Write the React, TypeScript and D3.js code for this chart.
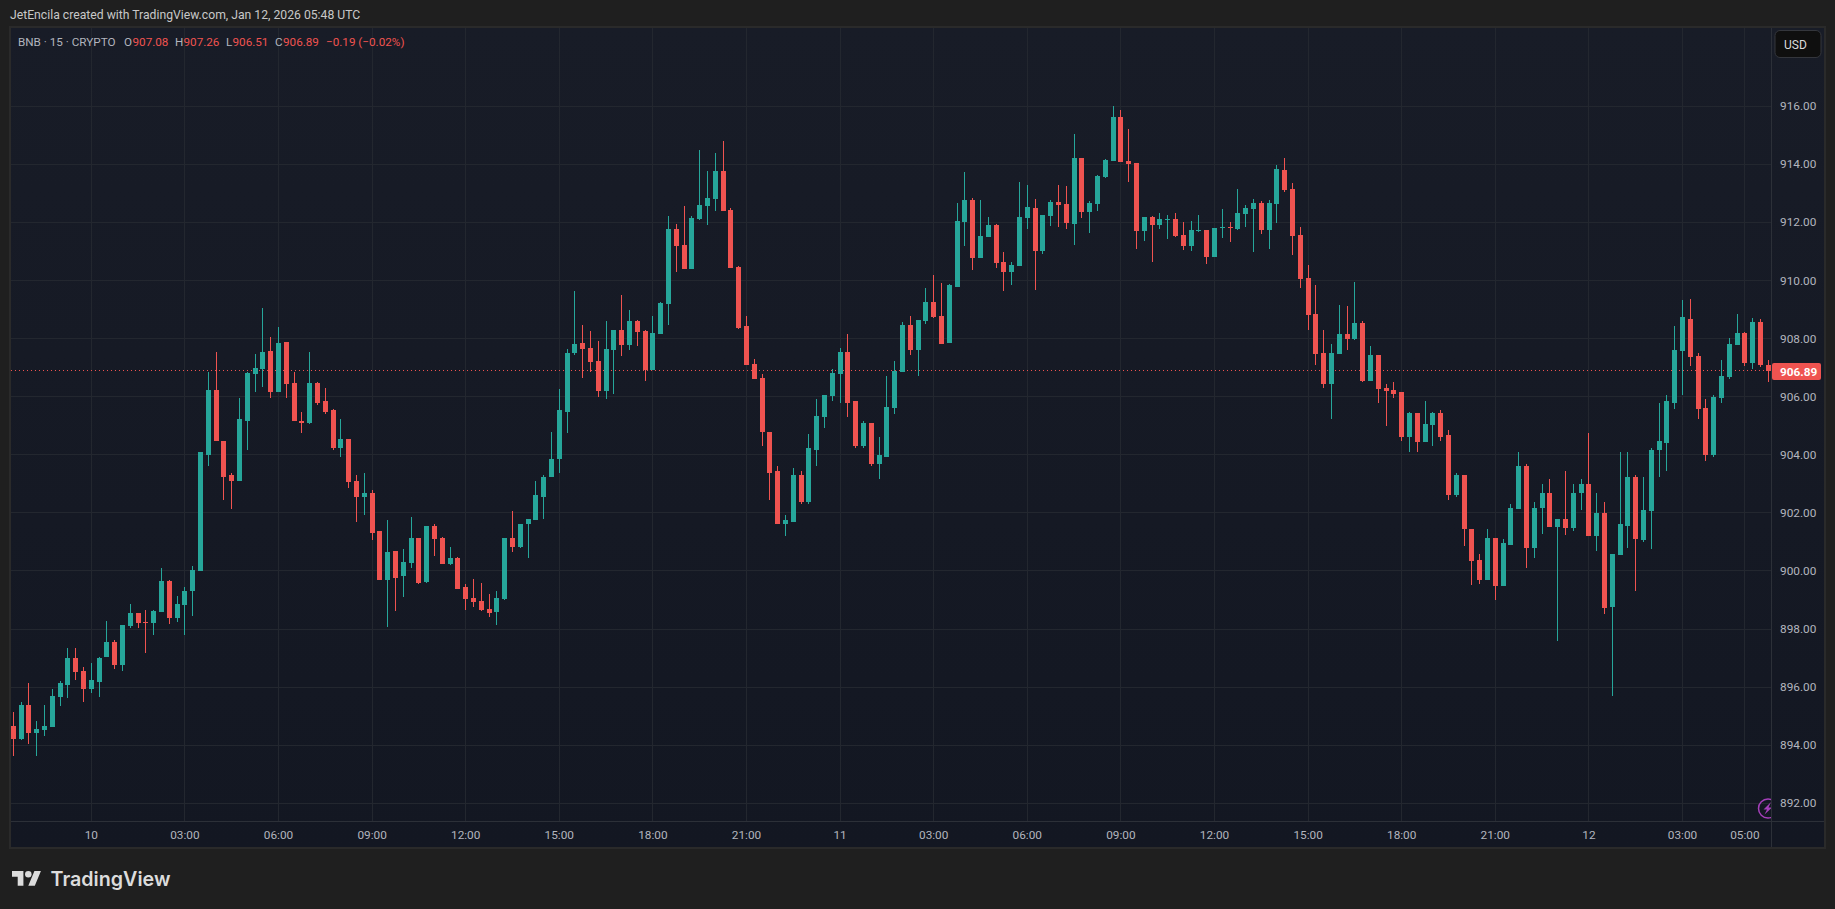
import React, { useEffect, useRef } from "react";
import * as d3 from "d3";

// 15 minute BNB candles, oldest first
const opens: number[] = [
  894.67,894.22,895.39,894.43,894.53,894.63,895.67,896.08,897.01,896.56,
  895.94,896.18,897.05,897.56,896.77,898.11,898.56,898.25,898.22,898.60,
  899.67,898.39,898.84,899.32,900.01,904.01,906.22,904.49,903.29,903.11,
  905.18,906.77,906.94,907.56,906.15,907.87,906.46,905.18,905.11,906.46,
  905.84,905.53,904.25,904.53,903.11,902.56,902.70,901.36,899.70,900.70,
  899.84,900.29,901.15,899.63,901.56,901.15,900.25,900.46,899.46,899.08,
  898.98,898.70,898.60,899.05,901.15,900.84,901.60,901.77,902.56,903.22,
  903.84,905.49,907.49,907.84,907.67,907.22,906.18,907.60,908.29,907.77,
  908.60,908.25,906.91,908.15,909.18,911.77,911.22,910.39,912.11,912.56,
  912.80,913.77,912.43,910.46,908.43,907.11,906.63,904.80,903.43,901.63,
  901.70,903.29,902.39,904.18,905.29,906.01,906.77,907.53,905.84,904.29,
  905.11,903.70,903.94,905.60,906.84,908.46,907.60,908.60,909.25,908.77,
  907.84,909.77,912.01,912.77,910.77,911.49,911.91,910.63,910.29,910.49,
  912.15,912.49,911.01,912.22,912.70,912.63,911.94,914.22,912.36,912.63,
  913.56,914.11,915.63,914.11,914.05,911.70,912.18,911.91,912.08,912.11,
  911.56,911.18,911.70,911.74,910.80,911.80,911.84,911.77,912.29,912.46,
  912.67,911.74,912.63,913.80,913.15,911.56,910.08,908.84,907.49,906.43,
  907.46,908.15,907.98,908.53,906.53,907.43,906.29,906.22,906.15,904.60,
  905.43,904.43,905.01,905.43,904.67,902.60,903.29,901.46,900.39,899.70,
  901.15,899.49,900.91,902.15,903.63,900.80,902.18,902.70,901.53,901.80,
  901.49,902.67,902.98,901.22,902.01,898.77,900.56,901.56,903.22,901.08,
  902.08,904.15,904.39,905.80,907.56,908.67,907.39,905.60,903.98,905.94,
  906.67,907.77,908.18,907.15,908.56,907.08,
];
const highs: number[] = [
  895.15,895.49,896.15,894.84,895.39,895.94,896.22,897.36,897.36,896.70,
  896.84,897.05,898.29,897.63,898.15,898.87,898.56,898.67,898.67,900.11,
  899.70,899.15,899.46,900.18,904.08,906.84,907.53,904.49,903.39,905.94,
  906.84,907.46,909.05,908.05,908.39,907.87,906.84,905.46,907.53,906.49,
  906.29,905.56,905.22,904.56,903.29,903.39,902.80,901.36,901.77,900.70,
  900.77,901.87,901.15,901.56,901.60,901.18,900.84,900.49,899.56,899.74,
  899.60,899.22,899.32,901.15,902.08,901.63,901.80,903.11,903.32,904.80,
  906.25,907.63,909.63,908.46,908.25,907.91,908.60,908.29,909.49,908.98,
  908.63,908.29,908.77,909.25,912.22,911.94,912.56,912.22,914.49,913.77,
  914.39,914.80,912.49,910.49,908.77,907.29,906.77,904.80,903.60,901.91,
  903.53,903.43,904.70,905.91,906.05,906.94,907.67,908.15,905.84,905.15,
  905.11,904.60,906.70,907.22,908.56,908.77,908.63,909.74,910.18,909.91,
  909.87,912.67,913.74,912.84,912.77,912.18,911.94,910.98,910.63,913.39,
  913.29,912.80,912.25,912.77,913.29,913.25,915.05,914.22,912.74,913.63,
  914.18,916.01,915.87,915.22,914.05,912.18,912.22,912.32,912.25,912.32,
  912.01,912.05,912.25,911.74,911.80,912.46,912.01,913.15,912.60,912.80,
  912.74,912.77,913.98,914.22,913.36,911.84,910.53,909.84,908.29,907.80,
  909.15,909.11,909.94,908.60,907.74,907.43,906.43,906.49,906.15,905.46,
  905.43,905.84,905.49,905.53,904.84,903.39,903.32,901.46,900.60,901.46,
  901.15,901.11,902.29,904.11,903.67,902.36,902.98,903.15,901.80,903.43,
  903.01,903.18,904.74,902.70,902.39,900.60,904.08,904.08,903.29,903.22,
  904.25,905.80,906.05,908.43,909.32,909.36,907.49,905.91,906.05,907.25,
  908.01,908.84,908.22,908.70,908.67,907.26,
];
const lows: number[] = [
  893.63,894.18,894.05,893.63,894.32,894.63,895.36,895.63,896.25,895.49,
  895.80,895.67,897.05,896.63,896.56,898.05,898.05,897.18,897.80,898.60,
  898.18,898.25,897.80,898.46,900.01,903.60,904.46,902.46,902.15,903.11,
  904.18,906.15,906.32,905.94,906.15,905.94,905.15,904.74,905.05,905.70,
  905.39,904.18,903.91,902.84,901.67,901.94,901.05,899.70,898.08,898.63,
  899.11,900.11,899.56,899.60,900.53,900.25,900.22,899.39,898.67,898.77,
  898.63,898.43,898.15,899.01,900.67,900.80,900.43,901.74,901.80,903.22,
  903.36,904.74,907.43,906.63,906.84,905.98,905.91,906.08,907.39,907.60,
  907.74,906.53,906.91,908.15,908.46,910.29,910.39,910.39,912.08,911.91,
  912.39,912.39,910.43,908.32,907.08,906.60,904.29,902.46,901.63,901.22,
  901.70,902.32,902.32,903.60,904.91,905.84,905.77,905.29,904.22,904.22,
  903.63,903.15,903.94,905.39,906.84,907.43,906.70,908.49,908.70,907.80,
  907.84,909.77,911.18,910.36,910.77,911.49,910.43,909.63,909.84,910.49,
  911.77,909.67,910.91,911.87,911.84,911.77,911.22,912.15,911.63,912.39,
  913.53,914.11,914.08,913.39,911.08,911.36,910.63,911.77,911.43,911.49,
  911.05,911.01,911.67,910.56,910.80,911.46,911.32,911.74,911.84,910.98,
  911.60,911.08,911.98,913.05,910.87,909.74,908.29,907.08,906.29,905.22,
  907.46,907.60,907.94,906.49,906.53,905.80,904.98,905.94,904.49,904.11,
  904.11,904.43,904.32,904.46,902.43,902.53,900.87,899.53,899.56,899.70,
  899.01,899.49,900.91,902.15,900.11,900.43,901.29,901.53,897.60,901.25,
  901.36,902.11,901.22,900.70,898.53,895.70,900.56,900.80,899.32,901.01,
  900.74,903.22,903.43,905.56,906.05,907.05,905.22,903.80,903.91,905.77,
  906.60,907.77,907.05,906.94,907.01,906.51,
];
const closes: number[] = [
  894.22,895.39,894.43,894.56,894.67,895.70,896.15,897.01,896.53,895.94,
  896.25,897.01,897.56,896.77,898.15,898.56,898.22,898.22,898.63,899.67,
  898.39,898.87,899.32,900.05,904.08,906.22,904.46,903.25,903.11,905.22,
  906.80,906.98,907.53,906.15,907.84,906.43,905.15,905.11,906.46,905.80,
  905.49,904.25,904.53,903.08,902.56,902.70,901.32,899.70,900.67,899.77,
  900.32,901.15,899.60,901.56,901.11,900.25,900.46,899.39,899.05,898.94,
  898.67,898.56,899.08,901.15,900.84,901.63,901.80,902.60,903.25,903.87,
  905.53,907.49,907.80,907.63,907.18,906.18,907.63,908.29,907.77,908.60,
  908.22,906.91,908.18,909.22,911.77,911.18,910.39,912.15,912.60,912.84,
  913.77,912.39,910.43,908.36,907.08,906.60,904.77,903.39,901.63,901.74,
  903.29,902.39,904.22,905.32,906.05,906.80,907.53,905.80,904.29,905.11,
  903.70,903.98,905.63,906.87,908.46,907.60,908.63,909.25,908.74,907.80,
  909.84,912.05,912.77,910.77,911.53,911.91,910.60,910.29,910.53,912.18,
  912.53,911.01,912.25,912.70,912.60,911.98,914.22,912.36,912.67,913.60,
  914.15,915.63,914.08,914.01,911.70,912.18,911.91,912.11,912.11,911.53,
  911.18,911.74,911.74,910.80,911.80,911.84,911.80,912.32,912.49,912.67,
  911.74,912.67,913.84,913.11,911.53,910.05,908.80,907.46,906.43,907.49,
  908.15,907.98,908.53,906.53,907.43,906.25,906.18,906.11,904.60,905.43,
  904.43,905.05,905.43,904.63,902.60,903.29,901.43,900.36,899.70,901.15,
  899.49,900.98,902.18,903.63,900.80,902.18,902.70,901.53,901.80,901.49,
  902.70,902.98,901.22,902.01,898.74,900.60,901.60,903.22,901.11,902.11,
  904.18,904.46,905.84,907.60,908.74,907.36,905.56,903.98,905.98,906.70,
  907.80,908.18,907.15,908.56,907.08,906.89,
];

// bar index of each time label (bar 10 is midnight Jan 10)
const timeTicks: number[] = [10,22,34,46,58,70,82,94,106,118,130,142,154,166,178,190,202,214,222];
const timeLabels: string[] = [
  "10","03:00","06:00","09:00","12:00","15:00","18:00","21:00",
  "11","03:00","06:00","09:00","12:00","15:00","18:00","21:00",
  "12","03:00","05:00",
];
const priceTicks: number[] = [892,894,896,898,900,902,904,906,908,910,912,914,916];
const lastPrice = 906.89;

const legendParts: [string, number, string][] = [
  ["BNB · 15 · CRYPTO", 18, "#b2b5be"],
  ["O", 124, "#b2b5be"],
  ["907.08", 132.5, "#ef5350"],
  ["H", 175, "#b2b5be"],
  ["907.26", 183.5, "#ef5350"],
  ["L", 226, "#b2b5be"],
  ["906.51", 232.5, "#ef5350"],
  ["C", 275, "#b2b5be"],
  ["906.89", 283, "#ef5350"],
  ["−0.19 (−0.02%)", 326, "#ef5350"],
];

const UP = "#26a69a";
const DOWN = "#ef5350";
const FONT = "Roboto, 'Noto Sans', sans-serif";

const App = () => {
  const ref = useRef<any>(null);

  useEffect(() => {
    const width = 1835;
    const height = 909;
    const svg = d3.select(ref.current).attr("width", width).attr("height", height);
    svg.selectAll("*").remove();

    const left = 11;
    const top = 28;
    const paneRight = 1771;
    const paneBottom = 821;
    const right = 1824;
    const bottom = 847;

    var x = d3.scaleLinear().domain([0, 225]).range([13.3, 1768.3]);
    var y = d3.scaleLinear().domain([892, 916]).range([803.3, 106.3]);

    const defs = svg.append("defs");
    const grad = defs
      .append("linearGradient")
      .attr("id", "paneBg")
      .attr("x1", 0)
      .attr("x2", 0)
      .attr("y1", 0)
      .attr("y2", 1);
    grad.append("stop").attr("offset", 0).attr("stop-color", "#181c27");
    grad.append("stop").attr("offset", 1).attr("stop-color", "#131722");
    defs
      .append("clipPath")
      .attr("id", "paneClip")
      .append("rect")
      .attr("x", left)
      .attr("y", top)
      .attr("width", paneRight - left)
      .attr("height", paneBottom - top);

    svg.append("rect").attr("width", width).attr("height", height).attr("fill", "#1f1f1f");
    svg
      .append("rect")
      .attr("x", left - 1)
      .attr("y", top - 1)
      .attr("width", right - left + 2)
      .attr("height", bottom - top + 2)
      .attr("fill", "url(#paneBg)")
      .attr("stroke", "#2a2a2a")
      .attr("stroke-width", 2);

    // grid
    svg
      .append("g")
      .selectAll("line")
      .data(priceTicks)
      .enter()
      .append("line")
      .attr("x1", left)
      .attr("x2", paneRight)
      .attr("y1", (d) => Math.floor(y(d)) + 0.5)
      .attr("y2", (d) => Math.floor(y(d)) + 0.5)
      .attr("stroke", "#23272f");
    svg
      .append("g")
      .selectAll("line")
      .data(timeTicks)
      .enter()
      .append("line")
      .attr("x1", (d) => Math.floor(x(d)) + 0.5)
      .attr("x2", (d) => Math.floor(x(d)) + 0.5)
      .attr("y1", top)
      .attr("y2", paneBottom)
      .attr("stroke", "#23272f");

    // last price dotted line
    svg
      .append("line")
      .attr("x1", left)
      .attr("x2", paneRight)
      .attr("y1", Math.floor(y(lastPrice)) + 0.5)
      .attr("y2", Math.floor(y(lastPrice)) + 0.5)
      .attr("stroke", DOWN)
      .attr("shape-rendering", "crispEdges")
      .attr("stroke-dasharray", "1 3");

    // candles
    const candles = svg
      .append("g")
      .attr("clip-path", "url(#paneClip)")
      .attr("shape-rendering", "crispEdges")
      .selectAll("g")
      .data(opens.map((o, i) => i))
      .enter()
      .append("g")
      .attr("fill", (i) => (closes[i] >= opens[i] ? UP : DOWN));
    candles
      .append("rect")
      .attr("x", (i) => Math.floor(x(i)))
      .attr("width", 1)
      .attr("y", (i) => Math.round(y(highs[i])))
      .attr("height", (i) => Math.max(1, Math.round(y(lows[i])) - Math.round(y(highs[i]))));
    candles
      .append("rect")
      .attr("x", (i) => Math.floor(x(i)) - 2)
      .attr("width", 5)
      .attr("y", (i) => Math.round(y(Math.max(opens[i], closes[i]))))
      .attr("height", (i) =>
        Math.max(1, Math.round(y(Math.min(opens[i], closes[i]))) - Math.round(y(Math.max(opens[i], closes[i]))))
      );

    // lightning badge, cut off by the price axis
    const bolt = svg.append("g").attr("clip-path", "url(#paneClip)");
    bolt
      .append("circle")
      .attr("cx", 1768)
      .attr("cy", 808.5)
      .attr("r", 9.5)
      .attr("fill", "none")
      .attr("stroke", "#a53fba")
      .attr("stroke-width", 1.5);
    bolt
      .append("path")
      .attr("d", "M1771 802 L1763.5 809.5 L1767 809.5 L1764.5 814.5 L1772 807.5 L1768.5 807.5 Z")
      .attr("fill", "#a53fba");

    // axis lines
    svg
      .append("line")
      .attr("x1", paneRight + 0.5)
      .attr("x2", paneRight + 0.5)
      .attr("y1", top)
      .attr("y2", bottom)
      .attr("stroke", "#2c3038");
    svg
      .append("line")
      .attr("x1", left)
      .attr("x2", right)
      .attr("y1", paneBottom + 0.5)
      .attr("y2", paneBottom + 0.5)
      .attr("stroke", "#2c3038");

    // axis labels
    svg
      .append("g")
      .selectAll("text")
      .data(priceTicks)
      .enter()
      .append("text")
      .attr("x", 1780)
      .attr("y", (d) => y(d) + 4)
      .attr("fill", "#b2b5be")
      .style("font", `11.8px ${FONT}`)
      .text((d) => d3.format(".2f")(d));
    svg
      .append("g")
      .selectAll("text")
      .data(timeTicks)
      .enter()
      .append("text")
      .attr("x", (d) => x(d))
      .attr("y", 838.5)
      .attr("text-anchor", "middle")
      .attr("fill", "#b2b5be")
      .style("font", `11.8px ${FONT}`)
      .text((d, i) => timeLabels[i]);

    // last price tag
    svg
      .append("rect")
      .attr("x", 1772)
      .attr("y", 363)
      .attr("width", 49)
      .attr("height", 17)
      .attr("rx", 2)
      .attr("fill", DOWN);
    svg
      .append("text")
      .attr("x", 1780)
      .attr("y", 376)
      .attr("fill", "#ffffff")
      .style("font", `700 11.8px ${FONT}`)
      .text(d3.format(".2f")(lastPrice));

    // currency button
    svg
      .append("rect")
      .attr("x", 1775)
      .attr("y", 30.5)
      .attr("width", 46)
      .attr("height", 27)
      .attr("rx", 5)
      .attr("fill", "#0f0f0f")
      .attr("stroke", "#34363c");
    svg
      .append("text")
      .attr("x", 1784)
      .attr("y", 49)
      .attr("fill", "#dbdbdb")
      .style("font", `12px ${FONT}`)
      .text("USD");

    // legend and header
    svg
      .append("g")
      .selectAll("text")
      .data(legendParts)
      .enter()
      .append("text")
      .attr("x", (d) => d[1])
      .attr("y", 46)
      .attr("fill", (d) => d[2])
      .style("font", `11.7px ${FONT}`)
      .text((d) => d[0]);
    svg
      .append("text")
      .attr("x", 10)
      .attr("y", 19)
      .attr("fill", "#c8c8c8")
      .style("font", `12.2px ${FONT}`)
      .text("JetEncila created with TradingView.com, Jan 12, 2026 05:48 UTC");

    // footer logo
    const logo = svg.append("g").attr("transform", "translate(12,867.7) scale(0.815)").attr("fill", "#dcdcdc");
    logo.append("path").attr("d", "M14 22H7V11H0V4h14v18ZM28 22h-8l7.5-18h8L28 22Z");
    logo.append("circle").attr("cx", 20).attr("cy", 8).attr("r", 4);
    svg
      .append("text")
      .attr("x", 50.5)
      .attr("y", 885.5)
      .attr("fill", "#dcdcdc")
      .style("font", "600 19.7px Inter, Roboto, sans-serif")
      .text("TradingView");
  }, []);

  return <svg ref={ref} style={{ position: "absolute", left: 0, top: 0, display: "block" }}></svg>;
};

export default App;
